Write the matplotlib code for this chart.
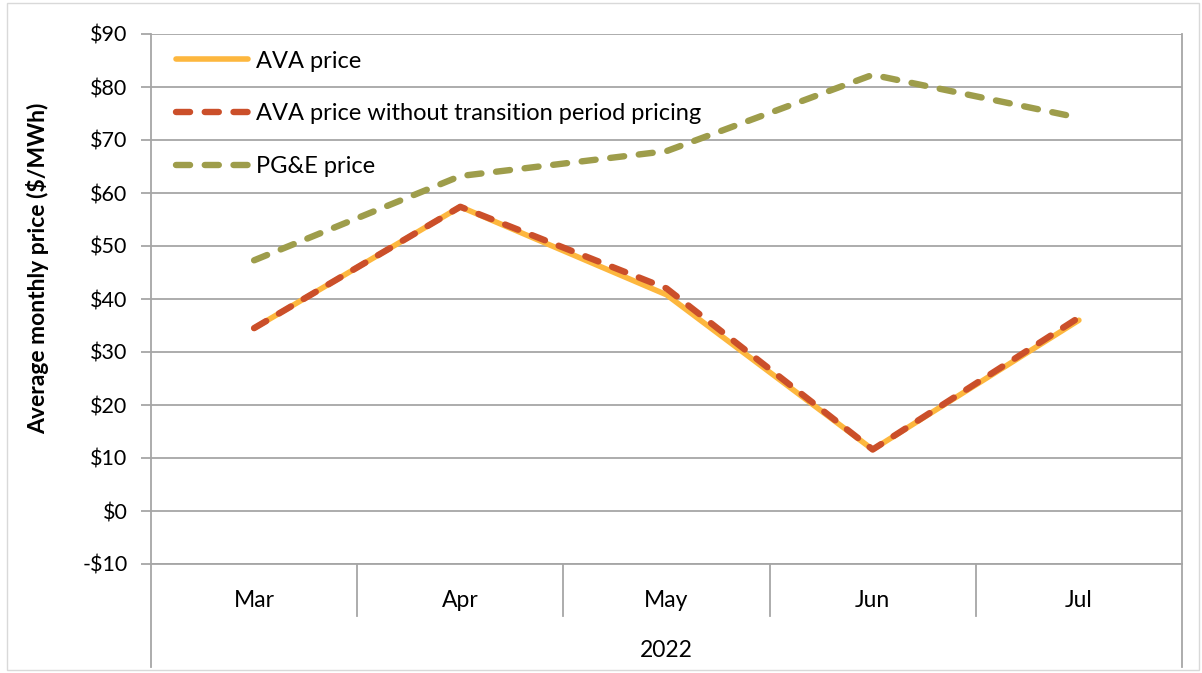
import matplotlib
matplotlib.use("Agg")
import matplotlib.pyplot as plt
from matplotlib.patches import Rectangle
from matplotlib.ticker import FuncFormatter

months = ["Mar", "Apr", "May", "Jun", "Jul"]
year_label = "2022"
ava_price = [34.5, 57.4, 40.8, 11.6, 36.0]
ava_no_transition = [34.5, 57.4, 42.0, 11.6, 36.5]
pge_price = [47.3, 63.2, 67.9, 82.3, 74.2]
y_ticks = list(range(-10, 100, 10))

plt.rcParams["font.family"] = ["Lato", "DejaVu Sans"]

fig = plt.figure(figsize=(12.02, 6.73), dpi=100)
W, H = 1202, 673
ax = fig.add_axes([151 / W, (H - 564) / H, (1182 - 151) / W, (564 - 34) / H])

x = list(range(len(months)))
grid_c = "#A6A6A6"

ax.plot(x, ava_price, color="#FDB73E", lw=4.0, solid_capstyle="round",
        solid_joinstyle="round", label="AVA price", zorder=3)
ax.plot(x, ava_no_transition, color="#CB4F2A", lw=4.6, dashes=(2.2, 2.3),
        dash_capstyle="round", dash_joinstyle="round",
        label="AVA price without transition period pricing", zorder=4)
ax.plot(x, pge_price, color="#9E9D4B", lw=4.6, dashes=(2.2, 2.3),
        dash_capstyle="round", dash_joinstyle="round",
        label="PG&E price", zorder=3)

ax.set_xlim(-0.5, len(months) - 0.5)
ax.set_ylim(-10, 90)
ax.set_yticks(y_ticks)
ax.yaxis.set_major_formatter(FuncFormatter(lambda v, p: f"-${-v:.0f}" if v < 0 else f"${v:.0f}"))
ax.grid(axis="y", color=grid_c, lw=1.3)
ax.set_axisbelow(True)
for s in ["top", "right", "bottom"]:
    ax.spines[s].set_visible(False)
ax.spines["left"].set_color(grid_c)
ax.spines["left"].set_linewidth(1.3)
ax.tick_params(axis="y", length=7, width=1.3, color=grid_c, labelsize=15.5, pad=10)
ax.set_xticks([])

# category axis box below the plot
xt = ax.get_xaxis_transform()
ax.plot([-0.5, len(months) - 0.5], [0, 0], transform=xt, color=grid_c, lw=1.3, clip_on=False)
ax.plot([len(months) - 0.5] * 2, [0, 1], transform=xt, color=grid_c, lw=1.3, clip_on=False)
for b in range(len(months) - 1):
    ax.plot([b + 0.5] * 2, [0, -0.098], transform=xt, color=grid_c, lw=1.3, clip_on=False)
for b in [-0.5, len(months) - 0.5]:
    ax.plot([b] * 2, [0, -0.194], transform=xt, color=grid_c, lw=1.3, clip_on=False)
for i, m in enumerate(months):
    ax.text(i, -0.068, m, transform=xt, ha="center", va="center", fontsize=16.5)
ax.text((len(months) - 1) / 2, -0.164, year_label, transform=xt, ha="center", va="center", fontsize=16.5)

fig.text(38 / W, 1 - 268 / H, "Average monthly price ($/MWh)", rotation=90,
         ha="center", va="center", fontsize=16.5, fontweight="bold")

leg = ax.legend(loc="upper left", bbox_to_anchor=(0.008, 1.0), frameon=False, fontsize=17,
                handlelength=3.05, handletextpad=0.33, labelspacing=1.35, borderaxespad=0.3)

fig.patches.append(Rectangle((7 / W, 1 - 670 / H), 1192 / W, 667 / H, transform=fig.transFigure,
                             fill=False, edgecolor="#D9D9D9", lw=1))

fig.savefig("out.png", dpi=100)
